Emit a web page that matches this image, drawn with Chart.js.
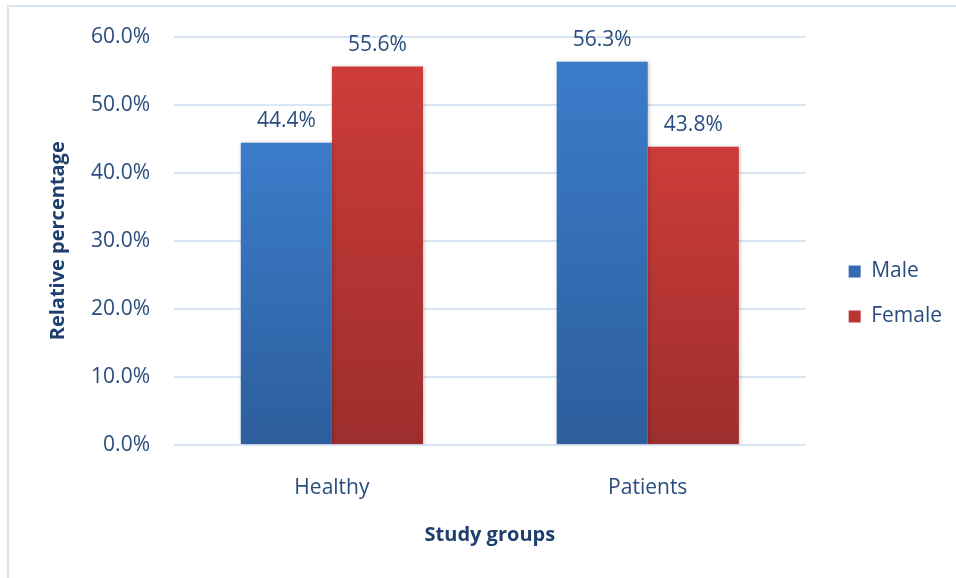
<!DOCTYPE html>
<html lang="en">
<head>
    <meta charset="UTF-8">
    <title>Study groups by sex</title>
    <script src="https://cdn.jsdelivr.net/npm/chart.js"></script>
    <style>
        body { margin: 0; background: #fff; }
        #wrap { width: 956px; height: 578px; }
    </style>
</head>
<body>
    <div id="wrap"><canvas id="myChart" width="956" height="578"></canvas></div>
    <script>
        // Data
        const groups = ['Healthy', 'Patients'];
        const maleData = [44.4, 56.3];
        const femaleData = [55.6, 43.8];
        const yTicks = [0, 10, 20, 30, 40, 50, 60];

        const textColor = '#2a4d7e';
        const fontFamily = "'Open Sans', sans-serif";

        // vertical gradient per bar, from the bar top down to zero
        function barGradient(ctx, topColor, bottomColor) {
            const chart = ctx.chart;
            if (!chart.chartArea) return topColor;
            const y = chart.scales.y;
            const top = y.getPixelForValue(ctx.raw);
            const base = y.getPixelForValue(0);
            const g = chart.ctx.createLinearGradient(0, top, 0, base);
            g.addColorStop(0, topColor);
            g.addColorStop(1, bottomColor);
            return g;
        }

        // light blue frame around the figure
        const framePlugin = {
            id: 'frame',
            beforeDraw(chart) {
                const c = chart.ctx;
                c.save();
                c.strokeStyle = '#d9e4f2';
                c.lineWidth = 2;
                c.beginPath();
                c.moveTo(8, chart.height + 2);
                c.lineTo(8, 6);
                c.lineTo(chart.width + 2, 6);
                c.stroke();
                c.restore();
            }
        };

        // soft shadow under the bars
        const shadowPlugin = {
            id: 'barShadow',
            beforeDatasetsDraw(chart) {
                const c = chart.ctx;
                c.save();
                c.shadowColor = 'rgba(0,0,0,0.22)';
                c.shadowBlur = 4;
                c.shadowOffsetX = 1;
                c.shadowOffsetY = 0;
            },
            afterDatasetsDraw(chart) {
                chart.ctx.restore();
            }
        };

        // value labels above each bar
        const valueLabels = {
            id: 'valueLabels',
            afterDatasetsDraw(chart) {
                const c = chart.ctx;
                c.save();
                c.font = '21px ' + fontFamily;
                c.fillStyle = textColor;
                c.textAlign = 'center';
                c.textBaseline = 'bottom';
                chart.data.datasets.forEach((ds, i) => {
                    chart.getDatasetMeta(i).data.forEach((bar, j) => {
                        c.fillText(ds.data[j].toFixed(1) + '%', bar.x, bar.y - 11);
                    });
                });
                c.restore();
            }
        };

        const ctx = document.getElementById('myChart').getContext('2d');
        const myChart = new Chart(ctx, {
            type: 'bar',
            data: {
                labels: groups,
                datasets: [{
                    label: 'Male',
                    data: maleData,
                    backgroundColor: c => barGradient(c, '#3b7cca', '#2d5e9d'),
                    borderWidth: 0
                }, {
                    label: 'Female',
                    data: femaleData,
                    backgroundColor: c => barGradient(c, '#cd3c3a', '#9d2e2d'),
                    borderWidth: 0
                }]
            },
            options: {
                responsive: false,
                animation: false,
                layout: { padding: { left: 0, right: 4, top: 33, bottom: 23 } },
                datasets: {
                    bar: { categoryPercentage: 0.577, barPercentage: 1 }
                },
                plugins: {
                    tooltip: { enabled: false },
                    legend: {
                        position: 'right',
                        labels: {
                            color: textColor,
                            font: { family: fontFamily, size: 21 },
                            boxWidth: 12,
                            boxHeight: 12,
                            padding: 24,
                            generateLabels(chart) {
                                return chart.data.datasets.map((ds, i) => ({
                                    text: ds.label,
                                    fillStyle: i === 0 ? '#3469b3' : '#b93534',
                                    strokeStyle: 'transparent',
                                    lineWidth: 0,
                                    fontColor: textColor,
                                    datasetIndex: i
                                }));
                            }
                        }
                    }
                },
                scales: {
                    x: {
                        grid: { display: false },
                        border: { display: false },
                        ticks: {
                            color: textColor,
                            font: { family: fontFamily, size: 21 },
                            padding: 22
                        },
                        title: {
                            display: true,
                            text: 'Study groups',
                            color: '#1f3f6e',
                            font: { family: fontFamily, size: 20, weight: 'bold' },
                            padding: { top: 0, bottom: 8 }
                        },
                        afterFit(scale) { scale.height = 110; }
                    },
                    y: {
                        min: 0,
                        max: 60,
                        afterBuildTicks(scale) {
                            scale.ticks = yTicks.map(v => ({ value: v }));
                        },
                        grid: {
                            color: '#d9e4f2',
                            lineWidth: 2,
                            drawTicks: false
                        },
                        border: { display: false },
                        ticks: {
                            color: textColor,
                            font: { family: fontFamily, size: 21 },
                            padding: 24,
                            callback: v => v.toFixed(1) + '%'
                        },
                        title: {
                            display: true,
                            text: 'Relative percentage',
                            color: '#1f3f6e',
                            font: { family: fontFamily, size: 20, weight: 'bold' },
                            padding: { top: 46, bottom: 0 }
                        },
                        afterFit(scale) { scale.width = 174; }
                    },
                    // empty spacer between the plot and the legend
                    gap: {
                        type: 'linear',
                        position: 'right',
                        display: true,
                        grid: { display: false },
                        border: { display: false },
                        ticks: { display: false },
                        afterFit(scale) { scale.width = 19; }
                    }
                }
            },
            plugins: [framePlugin, shadowPlugin, valueLabels]
        });
    </script>
</body>
</html>
